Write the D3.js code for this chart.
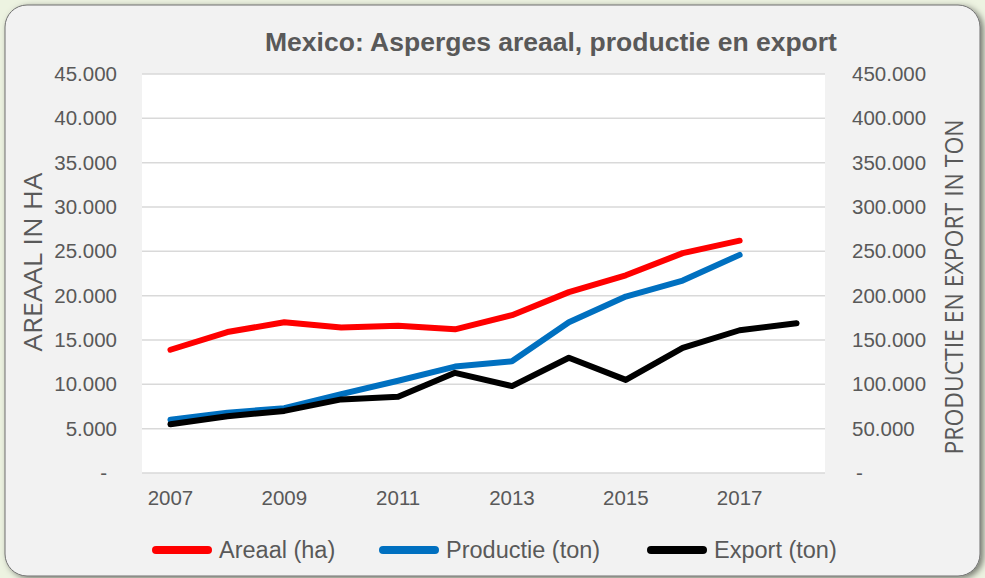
<!DOCTYPE html>
<html>
<head>
<meta charset="utf-8">
<script src="https://cdn.jsdelivr.net/npm/d3@7"></script>
<style>
  body { margin: 0; background: #edf3e1; }
  text { font-family: "Liberation Sans", Arial, sans-serif; fill: #595959; }
</style>
</head>
<body>
<div id="chart"></div>
<script>
// years on the category axis
let years = [2007, 2008, 2009, 2010, 2011, 2012, 2013, 2014, 2015, 2016, 2017, 2018]
let tickYears = [2007, 2009, 2011, 2013, 2015, 2017]

// areaal in ha (left axis)
let areaal = [13900, 15900, 17000, 16400, 16600, 16200, 17800, 20400, 22300, 24800, 26200, null]
// productie and export in ton (right axis)
let productie = [60000, 68000, 73000, 89000, 104000, 120000, 126000, 170000, 199000, 217000, 246000, null]
let exportTon = [55000, 64000, 70000, 83000, 86000, 113000, 98000, 130000, 105000, 141000, 161000, 169000]

let leftTicks = [0, 5000, 10000, 15000, 20000, 25000, 30000, 35000, 40000, 45000]
let rightTicks = [0, 50000, 100000, 150000, 200000, 250000, 300000, 350000, 400000, 450000]

let width = 985, height = 578
let margin = { top: 74, left: 142, right: 160, bottom: 105 }

let svg = d3.select("#chart").append("svg")
  .attr("width", width)
  .attr("height", height)

// shadow for the panel
let defs = svg.append("defs")
let filt = defs.append("filter").attr("id", "shadow")
  .attr("x", "-5%").attr("y", "-5%").attr("width", "110%").attr("height", "110%")
filt.append("feDropShadow")
  .attr("dx", 3).attr("dy", 2).attr("stdDeviation", 3)
  .attr("flood-color", "#000").attr("flood-opacity", 0.5)

svg.append("rect")
  .attr("x", 5).attr("y", 5)
  .attr("width", 975).attr("height", 571)
  .attr("rx", 22)
  .attr("fill", "#f2f2f2")
  .attr("stroke", "#6f6f6f")
  .attr("stroke-width", 1)
  .attr("filter", "url(#shadow)")

let plotW = width - margin.left - margin.right
let plotH = height - margin.top - margin.bottom

let x = d3.scaleBand()
  .domain(years)
  .range([margin.left, margin.left + plotW])

let yL = d3.scaleLinear().domain([0, 45000]).range([margin.top + plotH, margin.top])
let yR = d3.scaleLinear().domain([0, 450000]).range([margin.top + plotH, margin.top])

// plot area
svg.append("rect")
  .attr("x", margin.left).attr("y", margin.top)
  .attr("width", plotW).attr("height", plotH)
  .attr("fill", "#fff")

// gridlines
svg.append("g")
  .selectAll("line")
  .data(leftTicks)
  .enter().append("line")
  .attr("x1", margin.left)
  .attr("x2", margin.left + plotW)
  .attr("y1", d => yL(d))
  .attr("y2", d => yL(d))
  .attr("stroke", "#d9d9d9")
  .attr("stroke-width", 1.5)

let fmt = function(d) {
  if (d == 0) return "-"
  return d3.format(",")(d).replace(/,/g, ".")
}

// left axis labels
let leftAxis = svg.append("g")
  .attr("transform", "translate(" + (margin.left - 25) + ",0)")
  .call(d3.axisLeft(yL).tickValues(leftTicks).tickFormat(fmt).tickSize(0).tickPadding(0))
leftAxis.select(".domain").remove()
leftAxis.selectAll("text")
  .style("font-size", "20.5px")
  .attr("fill", null)
  .attr("dx", d => d == 0 ? -10 : 0)

// right axis labels
let rightAxis = svg.append("g")
  .attr("transform", "translate(" + (margin.left + plotW + 27) + ",0)")
  .call(d3.axisRight(yR).tickValues(rightTicks).tickFormat(fmt).tickSize(0).tickPadding(0))
rightAxis.select(".domain").remove()
rightAxis.selectAll("text")
  .style("font-size", "20.5px")
  .attr("fill", null)
  .attr("dx", d => d == 0 ? 4 : 0)

// x axis labels
let xAxis = svg.append("g")
  .attr("transform", "translate(0," + (margin.top + plotH + 17) + ")")
  .call(d3.axisBottom(x).tickValues(tickYears).tickSize(0).tickPadding(0))
xAxis.select(".domain").remove()
xAxis.selectAll("text")
  .style("font-size", "20.5px")
  .attr("fill", null)

// axis titles (narrow, tall letters like the original)
svg.append("text")
  .attr("transform", "translate(42,262) rotate(-90)")
  .attr("text-anchor", "middle")
  .style("font-size", "25px")
  .style("font-family", "'Open Sans', sans-serif")
  .attr("textLength", 179)
  .attr("lengthAdjust", "spacingAndGlyphs")
  .text("AREAAL IN HA")

svg.append("text")
  .attr("transform", "translate(963,287) rotate(-90)")
  .attr("text-anchor", "middle")
  .style("font-size", "25px")
  .style("font-family", "'Open Sans', sans-serif")
  .attr("textLength", 335)
  .attr("lengthAdjust", "spacingAndGlyphs")
  .text("PRODUCTIE EN EXPORT IN TON")

// title
svg.append("text")
  .attr("x", 551)
  .attr("y", 51)
  .attr("text-anchor", "middle")
  .style("font-size", "26.5px")
  .style("font-weight", "bold")
  .text("Mexico: Asperges areaal, productie en export")

// series
let series = [
  { name: "Areaal (ha)", values: areaal, scale: yL, color: "#ff0000" },
  { name: "Productie (ton)", values: productie, scale: yR, color: "#0070c0" },
  { name: "Export (ton)", values: exportTon, scale: yR, color: "#000000" }
]

series.forEach(function(s) {
  let line = d3.line()
    .defined(d => d != null)
    .x((d, i) => x(years[i]) + x.bandwidth() / 2)
    .y(d => s.scale(d))
  svg.append("path")
    .datum(s.values)
    .attr("d", line)
    .attr("fill", "none")
    .attr("stroke", s.color)
    .attr("stroke-width", 6)
    .attr("stroke-linecap", "round")
    .attr("stroke-linejoin", "round")
})

// legend
let legendX = [156, 383, 651]
let legend = svg.append("g")
series.forEach(function(s, i) {
  legend.append("line")
    .attr("x1", legendX[i]).attr("x2", legendX[i] + 52)
    .attr("y1", 550).attr("y2", 550)
    .attr("stroke", s.color)
    .attr("stroke-width", 8)
    .attr("stroke-linecap", "round")
  legend.append("text")
    .attr("x", legendX[i] + 63)
    .attr("y", 558)
    .style("font-size", "23.5px")
    .text(s.name)
})
</script>
</body>
</html>
